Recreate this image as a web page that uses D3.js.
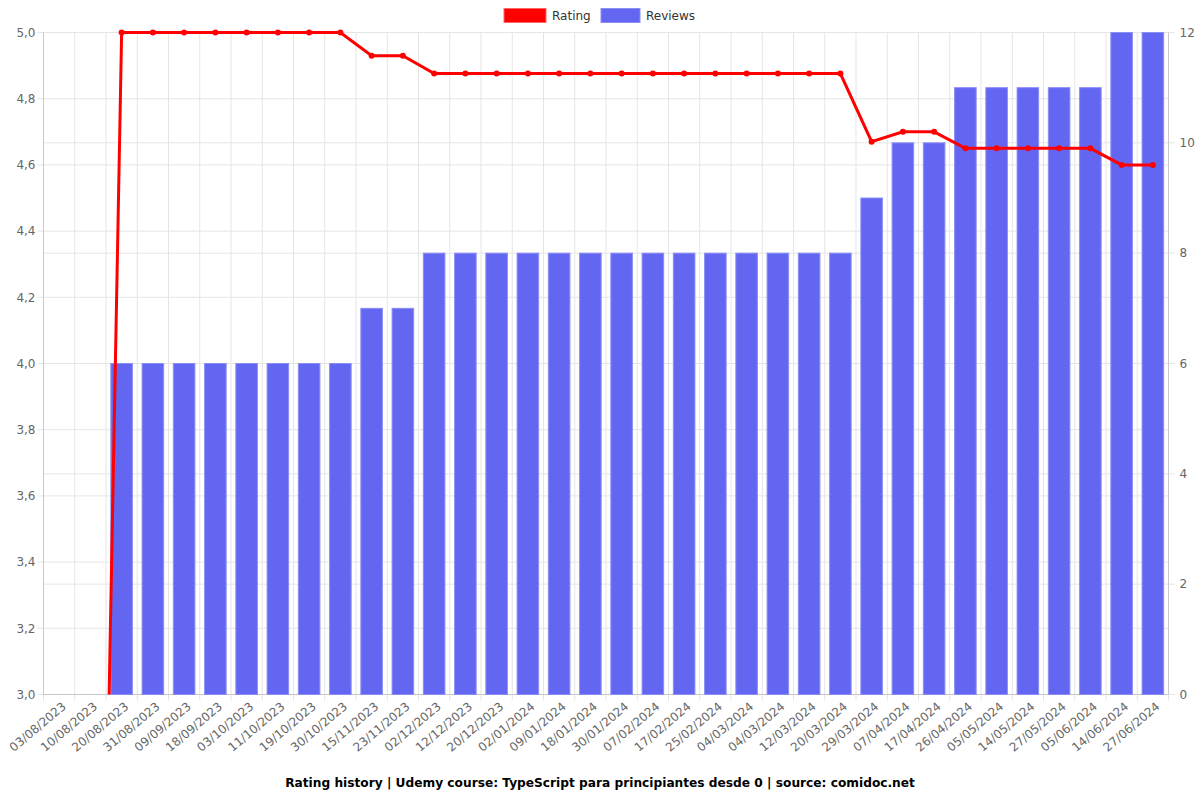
<!DOCTYPE html>
<html><head><meta charset="utf-8">
<script src="https://cdn.jsdelivr.net/npm/d3@7"></script>
<style>body{margin:0;background:#fff;font-family:"DejaVu Sans",sans-serif;}</style>
</head><body><svg id="c" width="1200" height="800"></svg>
<script>
const categories = ["03/08/2023","10/08/2023","20/08/2023","31/08/2023","09/09/2023","18/09/2023","03/10/2023","11/10/2023","19/10/2023","30/10/2023","15/11/2023","23/11/2023","02/12/2023","12/12/2023","20/12/2023","02/01/2024","09/01/2024","18/01/2024","30/01/2024","07/02/2024","17/02/2024","25/02/2024","04/03/2024","04/03/2024","12/03/2024","20/03/2024","29/03/2024","07/04/2024","17/04/2024","26/04/2024","05/05/2024","14/05/2024","27/05/2024","05/06/2024","14/06/2024","27/06/2024"];
const ratings = [0,0,5,5,5,5,5,5,5,5,4.93,4.93,4.876,4.876,4.876,4.876,4.876,4.876,4.876,4.876,4.876,4.876,4.876,4.876,4.876,4.876,4.67,4.7,4.7,4.65,4.65,4.65,4.65,4.65,4.6,4.6];
const reviews = [0,0,6,6,6,6,6,6,6,6,7,7,8,8,8,8,8,8,8,8,8,8,8,8,8,8,9,10,10,11,11,11,11,11,12,12];
const leftTicks = [3.0,3.2,3.4,3.6,3.8,4.0,4.2,4.4,4.6,4.8,5.0];
const rightTicks = [0,2,4,6,8,10,12];
const title = "Rating history | Udemy course: TypeScript para principiantes desde 0 | source: comidoc.net";

const svg = d3.select("#c");
const L=43.5, R=1168.5, T=32.5, B=694.5;
const x = d3.scaleBand().domain(d3.range(categories.length)).range([L,R]);
const yL = d3.scaleLinear().domain([3,5]).range([B,T]);
const yR = d3.scaleLinear().domain([0,12]).range([B,T]);
const grid = "#e5e5e5", axisC="#c8c8c8", txt="#666";
const g = svg.append("g");
d3.range(categories.length+1).forEach(i=>{
  const xx = L + i*x.step();
  g.append("line").attr("x1",xx).attr("x2",xx).attr("y1",T).attr("y2",B+6).attr("stroke",grid);
});
leftTicks.forEach(t=>g.append("line").attr("x1",L-6).attr("x2",R).attr("y1",yL(t)).attr("y2",yL(t)).attr("stroke",grid));
rightTicks.forEach(t=>g.append("line").attr("x1",L).attr("x2",R+6).attr("y1",yR(t)).attr("y2",yR(t)).attr("stroke",grid));
g.append("line").attr("x1",L).attr("x2",L).attr("y1",T).attr("y2",B).attr("stroke",axisC);
g.append("line").attr("x1",R).attr("x2",R).attr("y1",T).attr("y2",B).attr("stroke",axisC);
g.append("line").attr("x1",L).attr("x2",R).attr("y1",B).attr("y2",B).attr("stroke",axisC);
const fmt = d=>d3.format(".1f")(d).replace(".",",");
leftTicks.forEach(t=>g.append("text").attr("x",L-8).attr("y",yL(t)).attr("dy","0.35em").attr("text-anchor","end").attr("font-size",12).attr("fill",txt).text(fmt(t)));
rightTicks.forEach(t=>g.append("text").attr("x",R+11).attr("y",yR(t)).attr("dy","0.35em").attr("text-anchor","start").attr("font-size",12).attr("fill",txt).text(t));
categories.forEach((c,i)=>{
  const cx = x(i)+x.bandwidth()/2+5;
  g.append("text").attr("transform",`translate(${cx},${B+10}) rotate(-40)`).attr("text-anchor","end").attr("dy","0.35em").attr("font-size",12).attr("fill",txt).text(c);
});
const bw = x.bandwidth()*0.69;
svg.append("g").selectAll("rect").data(reviews).join("rect")
  .attr("x",(d,i)=>x(i)+(x.bandwidth()-bw)/2).attr("width",bw)
  .attr("y",d=>yR(d)).attr("height",d=>B-yR(d))
  .attr("fill","#6366f1").attr("stroke","#8b8ef5").attr("stroke-width",1)
  .attr("display",d=>d>0?null:"none");
svg.append("defs").append("clipPath").attr("id","clip").append("rect").attr("x",L).attr("y",T-5).attr("width",R-L+5).attr("height",B-T+5);
const lg = svg.append("g").attr("clip-path","url(#clip)");
const line = d3.line().x((d,i)=>x(i)+x.bandwidth()/2).y(d=>yL(d));
lg.append("path").datum(ratings).attr("d",line).attr("fill","none").attr("stroke","#ff0000").attr("stroke-width",3);
lg.selectAll("circle").data(ratings).join("circle")
  .attr("cx",(d,i)=>x(i)+x.bandwidth()/2).attr("cy",d=>yL(d)).attr("r",3).attr("fill","#ff0000");
const leg = svg.append("g");
leg.append("rect").attr("x",504).attr("y",8.5).attr("width",42).attr("height",14).attr("fill","#ff0000").attr("stroke","#ff6666");
leg.append("text").attr("x",552).attr("y",16).attr("dy","0.35em").attr("font-size",12).attr("fill","#333").text("Rating");
leg.append("rect").attr("x",601).attr("y",8.5).attr("width",39).attr("height",14).attr("fill","#6366f1").attr("stroke","#8b8ef5");
leg.append("text").attr("x",646).attr("y",16).attr("dy","0.35em").attr("font-size",12).attr("fill","#333").text("Reviews");
svg.append("text").attr("x",600).attr("y",783).attr("dy","0.35em").attr("text-anchor","middle").attr("font-size",12.2).attr("font-weight","bold").attr("fill","#000").text(title);
</script></body></html>
